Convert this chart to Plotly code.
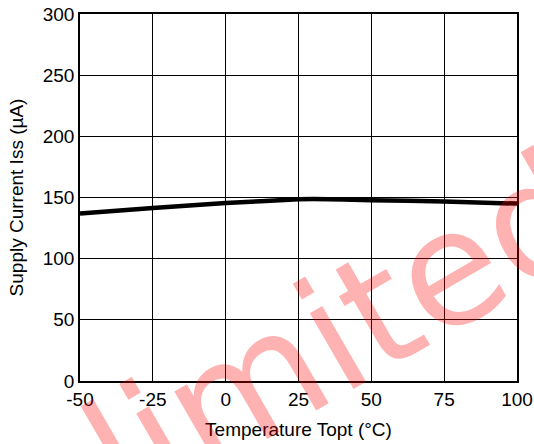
import plotly.graph_objects as go

temperature = [-50, -25, 0, 25, 30, 50, 75, 100]
supply_current = [137, 141.5, 145.5, 148.5, 148.7, 147.8, 146.7, 145]
x_ticks = [-50, -25, 0, 25, 50, 75, 100]
y_ticks = [0, 50, 100, 150, 200, 250, 300]
watermark = "Unlimited"

FONT = "Arial, Liberation Sans, sans-serif"

fig = go.Figure()
fig.add_trace(go.Scatter(
    x=temperature, y=supply_current, mode="lines",
    line=dict(color="black", width=4.5, shape="spline", smoothing=0.6),
    showlegend=False, hoverinfo="skip",
))

axis_common = dict(
    showgrid=True, gridcolor="black", gridwidth=1,
    showline=True, linecolor="black", linewidth=1.5, mirror=True,
    ticks="", zeroline=False, automargin=False, ticklabeloverflow="allow",
    tickfont=dict(family=FONT, size=19, color="black"),
)

fig.update_xaxes(
    range=[-50, 100], tickvals=x_ticks, ticktext=[str(v) for v in x_ticks],
    title=dict(text="Temperature Topt (°C)", font=dict(family=FONT, size=19, color="black"), standoff=14),
    **axis_common,
)
fig.update_yaxes(
    range=[0, 300], tickvals=y_ticks, ticktext=[str(v) for v in y_ticks],
    title=dict(text="Supply Current Iss (µA)", font=dict(family=FONT, size=19, color="black"), standoff=14),
    **axis_common,
)

fig.add_annotation(
    text=watermark, xref="paper", yref="paper", x=0.378, y=-0.018,
    xanchor="center", yanchor="middle", showarrow=False, textangle=-30,
    font=dict(family="DejaVu Sans", size=160, color="rgba(255,0,0,0.3)"),
)

fig.update_layout(
    width=534, height=444,
    margin=dict(l=80, r=17, t=14, b=63),
    paper_bgcolor="white", plot_bgcolor="white",
    font=dict(family=FONT, color="black"),
)

fig.write_html(
    "out.html",
    config={"displayModeBar": False},
    post_script="document.body.style.margin='0';document.body.style.overflow='hidden';",
)
